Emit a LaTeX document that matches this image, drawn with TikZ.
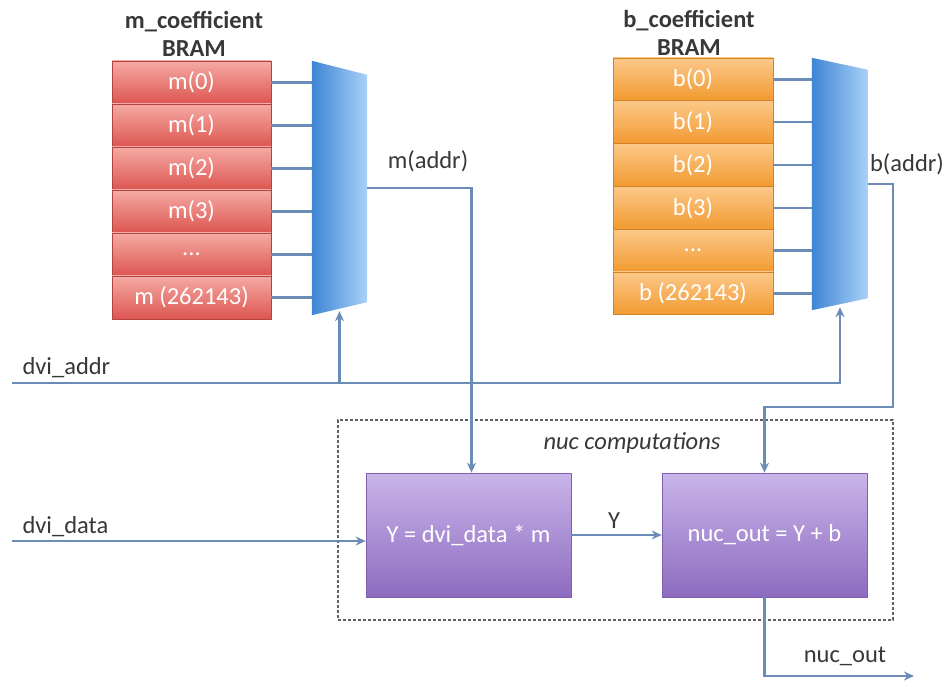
\documentclass[tikz,border=0pt]{standalone}
\usepackage{fontspec}
\setmainfont{Carlito}
\usetikzlibrary{arrows.meta}
\definecolor{wire}{HTML}{6A8CB6}
\definecolor{txt}{HTML}{383838}
\definecolor{redtop}{HTML}{F5AAA4}
\definecolor{redbot}{HTML}{DD5550}
\definecolor{orgtop}{HTML}{FCC889}
\definecolor{orgbot}{HTML}{F29A30}
\definecolor{muxdark}{HTML}{3E85D5}
\definecolor{muxlight}{HTML}{AAD1F7}
\definecolor{purtop}{HTML}{CAB5EA}
\definecolor{purbot}{HTML}{8C6BBF}
\newcommand{\lblfont}{\fontsize{24.5}{28}\selectfont}
\begin{document}
\begin{tikzpicture}[x=1pt,y=-1pt,
  every node/.style={font=\lblfont,text=txt},
  sig/.style={draw=wire,line width=2.4pt},
  arr/.style={sig,-{Stealth[length=10pt,width=9pt]}},
  mcell/.style={rectangle,draw=redbot!80!black,line width=0.6pt,top color=redtop,bottom color=redbot,
    minimum width=159pt,minimum height=43pt,inner sep=0pt,text=white},
  bcell/.style={rectangle,draw=orgbot!85!black,line width=0.6pt,top color=orgtop,bottom color=orgbot,
    minimum width=160pt,minimum height=42.8pt,inner sep=0pt,text=white},
  muxbox/.style={rectangle,minimum width=55pt,minimum height=254pt,inner sep=0pt},
  calcbox/.style={rectangle,draw=purbot!90!black,line width=0.6pt,top color=purtop,bottom color=purbot,
    minimum width=205pt,minimum height=124pt,inner sep=0pt,text=white},
  groupbox/.style={rectangle,draw=txt!80,line width=1.2pt,dash pattern=on 3pt off 2pt,
    minimum width=555pt,minimum height=200pt,inner sep=0pt}]
  \useasboundingbox (0,0) rectangle (946,687);

  % group frame
  \node[groupbox] (nucgroup) at (615.5,520) {};
  \node[font=\lblfont\itshape] (grouplbl) at (632,443) {nuc computations};

  % coefficient memories
  \node[font=\lblfont\bfseries,align=center] (mtitle) at (194,34) {m\_coefficient\\BRAM};
  \node[font=\lblfont\bfseries,align=center] (btitle) at (689,33) {b\_coefficient\\BRAM};
  \foreach \i/\lab in {0/m(0),1/m(1),2/m(2),3/m(3),4/{...},5/{m (262143)}} {
    \node[mcell] (m\i) at (191.5,82.5+43*\i) {\lab};
  }
  \foreach \i/\lab in {0/b(0),1/b(1),2/b(2),3/b(3),4/{...},5/{b (262143)}} {
    \node[bcell] (b\i) at (693,79.4+42.8*\i) {\lab};
  }

  % multiplexers
  \node[muxbox] (mmux) at (339.5,188) {};
  \node[muxbox,minimum width=56pt,minimum height=252pt] (bmux) at (840,184) {};
  \shade[left color=muxdark,right color=muxlight] (mmux.south west) -- (mmux.north west)
    -- ([yshift=-14pt]mmux.north east) -- ([yshift=13pt]mmux.south east) -- cycle;
  \shade[left color=muxdark,right color=muxlight] (bmux.south west) -- (bmux.north west)
    -- ([yshift=-12pt]bmux.north east) -- ([yshift=12pt]bmux.south east) -- cycle;
  \foreach \i in {0,...,5} {
    \draw[sig] (m\i.east) -- (m\i.east -| mmux.west);
    \draw[sig] (b\i.east) -- (b\i.east -| bmux.west);
  }

  % computation blocks
  \node[calcbox] (ybox) at (468.5,535) {Y = dvi\_data * m};
  \node[calcbox] (nucbox) at (764.5,535) {nuc\_out = Y + b};

  % wires
  \coordinate (addrin) at (12,383);
  \coordinate (datain) at (12,541);
  \coordinate (bturn) at (893,407);
  \coordinate (outend) at (914,676);
  \draw[arr] (addrin) -| ([yshift=3pt]bmux.south);
  \draw[arr] (mmux.south |- addrin) -- ([yshift=4pt]mmux.south);
  \draw[arr] (mmux.east) -| ([xshift=3pt]ybox.north);
  \draw[arr] (bmux.east) -| (bturn) -| (nucbox.north);
  \draw[arr] (datain) -- (datain -| ybox.west);
  \draw[arr] (ybox.east) -- (nucbox.west);
  \draw[arr] (nucbox.south) |- (outend);

  % signal names
  \node (maddr) at (428,161) {m(addr)};
  \node (baddr) at (907,164) {b(addr)};
  \node[anchor=west] (addrlbl) at (19,368) {dvi\_addr};
  \node[anchor=west] (datalbl) at (19,527) {dvi\_data};
  \node (ylbl) at (614,521) {Y};
  \node (outlbl) at (845,656) {nuc\_out};
\end{tikzpicture}
\end{document}
